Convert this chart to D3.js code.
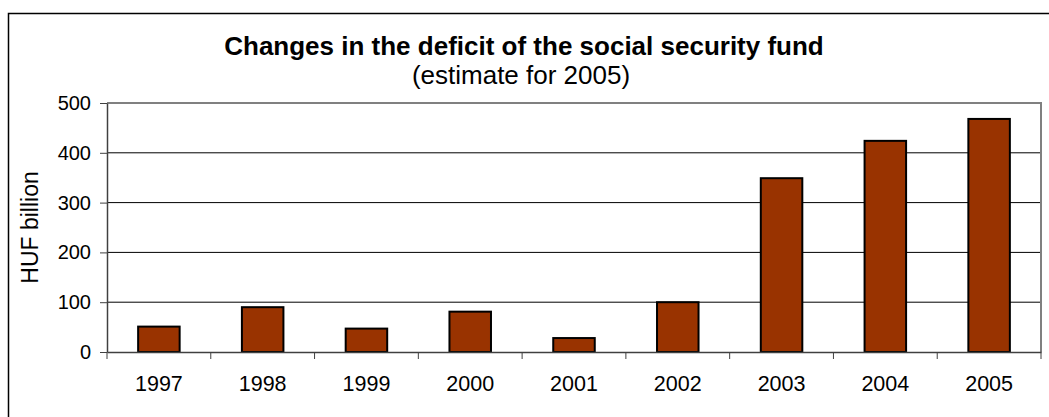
<!DOCTYPE html>
<html>
<head>
<meta charset="utf-8">
<script src="https://cdn.jsdelivr.net/npm/d3@7"></script>
<style>
  html, body { margin: 0; padding: 0; background: #fff; }
  svg { display: block; font-family: Arial, "Liberation Sans", sans-serif; }
</style>
</head>
<body>
<svg id="chart" width="1049" height="417"></svg>
<script>
// Deficit of the social security fund, HUF billion (2005 is an estimate)
const years = ["1997", "1998", "1999", "2000", "2001", "2002", "2003", "2004", "2005"];
const deficit = [51, 90, 47, 81, 28, 100, 349, 424, 468];
const yTicks = [0, 100, 200, 300, 400, 500];
const titleText = "Changes in the deficit of the social security fund";
const subtitleText = "(estimate for 2005)";
const yAxisLabel = "HUF billion";

const svg = d3.select("#chart");
const plot = { left: 107, right: 1041, top: 103, bottom: 352 };

// outer chart frame (runs past the right and bottom edges)
svg.append("rect")
  .attr("x", 8.5).attr("y", 13.5)
  .attr("width", 1200).attr("height", 600)
  .attr("fill", "none").attr("stroke", "#000").attr("stroke-width", 1.5);

const x = d3.scaleBand().domain(years).range([plot.left, plot.right]).paddingInner(0).paddingOuter(0);
const y = d3.scaleLinear().domain([0, 500]).range([plot.bottom, plot.top]);

// horizontal gridlines
svg.append("g").selectAll("line")
  .data(yTicks.filter(v => v > 0 && v < 500))
  .join("line")
  .attr("x1", plot.left).attr("x2", plot.right)
  .attr("y1", d => y(d)).attr("y2", d => y(d))
  .attr("stroke", "#000").attr("stroke-width", 1);

// plot border: top and right in gray
svg.append("path")
  .attr("d", `M${plot.left},${y(500)}H${plot.right}V${plot.bottom}`)
  .attr("fill", "none").attr("stroke", "#808080").attr("stroke-width", 2);

// bars: Excel-style gap width 150%
const barW = x.bandwidth() / 2.5;
svg.append("g").selectAll("rect")
  .data(years.map((yr, i) => ({ yr, v: deficit[i] })))
  .join("rect")
  .attr("x", d => x(d.yr) + (x.bandwidth() - barW) / 2)
  .attr("y", d => y(d.v))
  .attr("width", barW)
  .attr("height", d => y(0) - y(d.v))
  .attr("fill", "#993300")
  .attr("stroke", "#000").attr("stroke-width", 2);

// y axis
const yAxis = svg.append("g")
  .attr("transform", `translate(${plot.left},0)`)
  .call(d3.axisLeft(y).tickValues(yTicks).tickSize(7).tickSizeOuter(0).tickPadding(9));
yAxis.select(".domain").attr("stroke", "#404040").attr("stroke-width", 1.5);
yAxis.selectAll(".tick line").attr("stroke", "#404040");
yAxis.selectAll("text").attr("font-size", 20).attr("fill", "#000")
  .attr("font-family", "Arial, 'Liberation Sans', sans-serif");

// x axis with ticks on category boundaries
const xAxis = svg.append("g")
  .attr("transform", `translate(0,${plot.bottom})`)
  .call(d3.axisBottom(x).tickSize(0).tickPadding(24));
xAxis.select(".domain").attr("stroke", "#404040").attr("stroke-width", 1.5);
xAxis.selectAll("text").attr("font-size", 21.5).attr("fill", "#000")
  .attr("font-family", "Arial, 'Liberation Sans', sans-serif");
const boundaries = years.map(yr => x(yr)).concat([x(years[years.length - 1]) + x.bandwidth()]);
xAxis.append("g").selectAll("line")
  .data(boundaries)
  .join("line")
  .attr("x1", d => d).attr("x2", d => d)
  .attr("y1", 0).attr("y2", 7)
  .attr("stroke", "#404040").attr("stroke-width", 1);

// titles
svg.append("text")
  .attr("x", 524).attr("y", 55)
  .attr("text-anchor", "middle")
  .attr("font-size", 26).attr("font-weight", "bold")
  .text(titleText);
svg.append("text")
  .attr("x", 521).attr("y", 84)
  .attr("text-anchor", "middle")
  .attr("font-size", 26)
  .text(subtitleText);

// y axis title
svg.append("text")
  .attr("transform", `translate(38,${(plot.top + plot.bottom) / 2}) rotate(-90)`)
  .attr("text-anchor", "middle")
  .attr("font-size", 23)
  .text(yAxisLabel);
</script>
</body>
</html>
